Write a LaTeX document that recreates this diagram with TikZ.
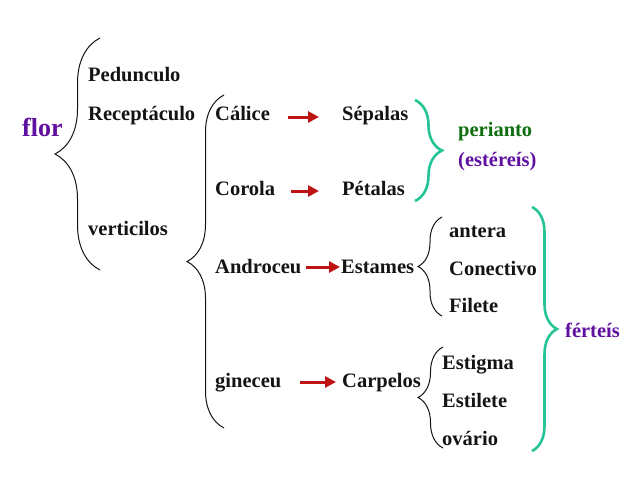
\documentclass[tikz,border=0pt]{standalone}
\usepackage{xcolor}
\usepackage{fontspec}
\setmainfont{Liberation Serif}
\usepackage{tikz}
\usetikzlibrary{arrows.meta, positioning, calc, decorations.pathreplacing}
\definecolor{myred}{RGB}{190,20,20}
\definecolor{mypurple}{RGB}{96,16,160}
\definecolor{mygreen}{RGB}{16,110,16}
\definecolor{myteal}{RGB}{36,196,150}
\definecolor{mydark}{RGB}{20,20,20}
\tikzset{
  term/.style={anchor=west, inner sep=0pt, text height=15pt, text depth=3pt,
    font=\bfseries\fontsize{20.5}{24}\selectfont, color=mydark},
  purpleterm/.style={term, color=mypurple},
  greenterm/.style={term, color=mygreen},
  redarrow/.style={-{Triangle[length=11pt, width=11pt]}, line width=3pt, color=myred},
  blackbrace/.style={mydark, line width=1pt, decorate, decoration={brace, amplitude=#1}},
  tealbrace/.style={myteal, line width=2.6pt, decorate, decoration={brace, amplitude=#1}}
}

\begin{document}
\begin{tikzpicture}[x=1pt, y=-1pt]
  \useasboundingbox (0,0) rectangle (638,479);

  % Flor and first level
  \node[purpleterm, font=\bfseries\fontsize{26}{30}\selectfont] (flor) at (22,130) {flor};
  \draw[blackbrace=45] (100,270) -- (100,38);
  \node[term] (ped) at (88,75) {Pedunculo};
  \node[term] (rec) at (88,114) {Receptáculo};
  \node[term] (vert) at (88,229) {verticilos};

  % Verticilos
  \draw[blackbrace=37] (224,428) -- (224,95);
  \node[term] (cal) at (215,114) {Cálice};
  \node[term] (cor) at (215,189) {Corola};
  \node[term] (and) at (215,267) {Androceu};
  \node[term] (gin) at (215,381) {gineceu};

  \node[term] (sep) at (342,114) {Sépalas};
  \node[term] (pet) at (342,189) {Pétalas};
  \node[term] (est) at (341,267) {Estames};
  \node[term] (carp) at (342,381) {Carpelos};

  \draw[redarrow] ($(cal.east)+(18,3)$) -- ($(sep.west)+(-23,3)$);
  \draw[redarrow] ($(cor.east)+(16,2)$) -- ($(pet.west)+(-23,2)$);
  \draw[redarrow] ($(and.east)+(4,0)$) -- ($(est.west)+(-1,0)$);
  \draw[redarrow] ($(gin.east)+(19,1)$) -- ($(carp.west)+(-6,1)$);

  % Perianto
  \draw[tealbrace=27] (415,100) -- (415,201);
  \node[greenterm] (peri) at (458,130) {perianto};
  \node[purpleterm] (ester) at (458,160) {(estéreís)};

  % Estames
  \draw[blackbrace=24] (442,316) -- (442,217);
  \node[term] (ant) at (449,231) {antera};
  \node[term] (con) at (449,269) {Conectivo};
  \node[term] (fil) at (449,306) {Filete};

  % Carpelos
  \draw[blackbrace=25] (443,448) -- (443,347);
  \node[term] (stig) at (442,363) {Estigma};
  \node[term] (stil) at (442,401) {Estilete};
  \node[term] (ova) at (442,439) {ovário};

  % Ferteis
  \draw[tealbrace=25] (532,207) -- (532,451);
  \node[purpleterm] (fert) at (565,331) {férteís};
\end{tikzpicture}
\end{document}
